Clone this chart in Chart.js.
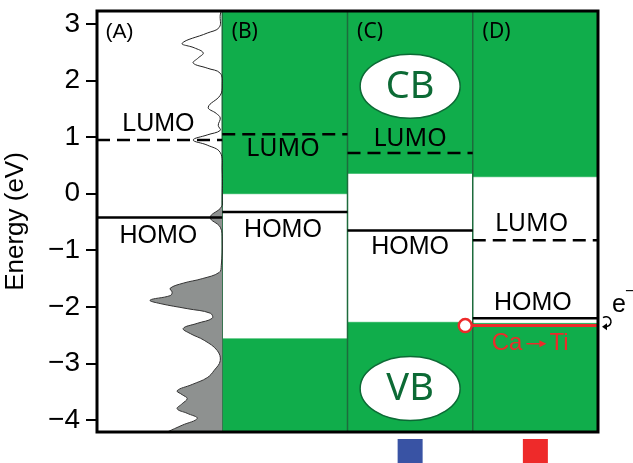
<!DOCTYPE html>
<html>
<head>
<meta charset="utf-8">
<script src="https://cdn.jsdelivr.net/npm/chart.js@4.4.1/dist/chart.umd.min.js"></script>
<style>
  html, body { margin: 0; padding: 0; background: #fff; }
  #wrap { width: 633px; height: 463px; }
</style>
</head>
<body>
<div id="wrap"><canvas id="bandChart"></canvas></div>
<script>
// energy levels per panel (A, B, C, D), in eV
const panelNames = ['(A)', '(B)', '(C)', '(D)'];
const lumoLevels = [0.95, 1.05, 0.72, -0.82];
const homoLevels = [-0.42, -0.32, -0.65, -2.2];
const cbEdge = [null, 0.0, 0.36, 0.3];     // bottom of conduction band
const vbEdge = [null, -2.56, -2.27, -2.29]; // top of valence band
const caTiLevel = -2.33;
const caTiStart = 2.94;
const yTicks = [3, 2, 1, 0, -1, -2, -3, -4];

// density of states of panel A (arbitrary units)
const dosEnergyEmpty = [3.23, 3.16, 2.94, 2.84, 2.66, 2.58, 2.49, 2.40, 2.31, 2.22, 2.13, 1.92, 1.74,
  1.53, 1.42, 1.34, 1.21, 1.12, 1.04, 0.95, 0.86, 0.73, 0.42, -0.12, -0.2];
const dosEmpty = [0.1, 0.2, 0.3, 1.5, 4.0, 2.8, 1.9, 2.4, 2.9, 1.5, 0.2, 0, 0.2,
  1.4, 0.6, 0.2, 0.4, 0.2, 1.5, 2.9, 1.5, 0.2, 0, 0, 0];
const dosEnergyFilled = [-0.2, -0.26, -0.42, -0.59, -0.82, -1.27, -1.39, -1.50, -1.58, -1.67, -1.74,
  -1.80, -1.88, -1.94, -2.03, -2.11, -2.20, -2.29, -2.38, -2.47, -2.59, -2.77, -2.95, -3.12, -3.25,
  -3.37, -3.48, -3.55, -3.62, -3.71, -3.80, -3.88, -3.97, -4.09, -4.21];
const dosFilled = [0, 0.2, 1.2, 0.2, 0, 0.1, 0.3, 2.0, 3.9, 5.2, 5.0,
  5.2, 7.2, 6.2, 3.5, 1.2, 1.0, 2.5, 3.9, 3.2, 1.8, 0.5, 0.2, 0.8, 1.5,
  3.0, 4.5, 4.0, 3.5, 4.0, 4.5, 3.5, 2.5, 4.0, 5.5];

const Y_MIN = -4.21, Y_MAX = 3.23;
const DOS_UNIT = 0.08;
const GREEN = '#10ad4b';
const DARK_GREEN = '#0c6a35';
const RED = '#ee2a2a';
const HELV = 'Liberation Sans, Arial, sans-serif';
const MYRIAD = 'Noto Sans, Open Sans, sans-serif';

const textLabels = [
  { text: panelNames[0], x: 0.18, y: 2.86, font: '21px ' + HELV },
  { text: panelNames[1], x: 1.18, y: 2.86, font: '21px ' + MYRIAD },
  { text: panelNames[2], x: 2.18, y: 2.86, font: '21px ' + MYRIAD },
  { text: panelNames[3], x: 3.19, y: 2.86, font: '21px ' + MYRIAD },
  { text: 'LUMO', x: 0.49, y: 1.23, font: '25px ' + HELV },
  { text: 'HOMO', x: 0.49, y: -0.74, font: '25px ' + HELV },
  { text: 'LUMO', x: 1.485, y: 0.80, font: '25px ' + MYRIAD },
  { text: 'HOMO', x: 1.485, y: -0.65, font: '25px ' + HELV },
  { text: 'LUMO', x: 2.5, y: 0.97, font: '25px ' + MYRIAD },
  { text: 'HOMO', x: 2.5, y: -0.95, font: '25px ' + HELV },
  { text: 'LUMO', x: 3.47, y: -0.54, font: '25px ' + MYRIAD },
  { text: 'HOMO', x: 3.48, y: -1.93, font: '25px ' + HELV }
];
const bandBubbles = [
  { text: 'CB', x: 2.5, y: 1.9 },
  { text: 'VB', x: 2.5, y: -3.44 }
];
const markers = [
  { x: 2.5, color: '#3953a4' },
  { x: 3.5, color: RED }
];

const datasets = [];
for (let i = 1; i < 4; i++) {
  datasets.push({
    data: [{ x: i, y: cbEdge[i] }, { x: i + 1, y: cbEdge[i] }],
    fill: 'end', backgroundColor: GREEN, borderColor: GREEN, borderWidth: 0.5, pointRadius: 0, order: 10
  });
  datasets.push({
    data: [{ x: i, y: vbEdge[i] }, { x: i + 1, y: vbEdge[i] }],
    fill: 'start', backgroundColor: GREEN, borderColor: GREEN, borderWidth: 0.5, pointRadius: 0, order: 10
  });
  datasets.push({
    data: [{ x: i, y: Y_MIN }, { x: i, y: Y_MAX }],
    borderColor: '#1d6b3c', borderWidth: 1.5, pointRadius: 0, order: 8
  });
}
datasets.push({
  indexAxis: 'y',
  data: dosEnergyEmpty.map((e, k) => ({ x: 1 - dosEmpty[k] * DOS_UNIT, y: e })),
  borderColor: '#222', borderWidth: 1, tension: 0.4, fill: false, pointRadius: 0, order: 6
});
datasets.push({
  indexAxis: 'y',
  data: dosEnergyFilled.map((e, k) => ({ x: 1 - dosFilled[k] * DOS_UNIT, y: e })),
  borderColor: '#333', borderWidth: 1, tension: 0.4, fill: { value: 1 }, backgroundColor: '#8e9190',
  pointRadius: 0, order: 6
});
for (let i = 0; i < 4; i++) {
  datasets.push({
    data: [{ x: i, y: lumoLevels[i] }, { x: i + 1, y: lumoLevels[i] }],
    borderColor: '#000', borderWidth: 2.5, borderDash: [13, 7], pointRadius: 0, order: 4
  });
  datasets.push({
    data: [{ x: i, y: homoLevels[i] }, { x: i + 1, y: homoLevels[i] }],
    borderColor: '#000', borderWidth: 2.5, pointRadius: 0, order: 4
  });
}
datasets.push({
  data: [{ x: caTiStart, y: caTiLevel }, { x: 4, y: caTiLevel }],
  borderColor: RED, borderWidth: 3, pointRadius: [6.5, 0],
  pointBackgroundColor: '#fff', pointBorderColor: RED, pointBorderWidth: 2.5, order: 1
});

const overlay = {
  id: 'overlay',
  afterDatasetsDraw(chart) {
    const { ctx, chartArea: a, scales: { x, y } } = chart;
    ctx.save();
    ctx.strokeStyle = '#000';
    ctx.lineWidth = 3;
    ctx.strokeRect(a.left, a.top, a.right - a.left, a.bottom - a.top);

    bandBubbles.forEach(b => {
      const cx = x.getPixelForValue(b.x), cy = y.getPixelForValue(b.y);
      ctx.beginPath();
      ctx.ellipse(cx, cy, 50, 32, 0, 0, Math.PI * 2);
      ctx.fillStyle = '#fff';
      ctx.fill();
      ctx.strokeStyle = DARK_GREEN;
      ctx.lineWidth = 1.5;
      ctx.stroke();
      ctx.fillStyle = DARK_GREEN;
      ctx.font = '38px ' + MYRIAD;
      ctx.textAlign = 'center';
      ctx.textBaseline = 'middle';
      ctx.fillText(b.text, cx, cy + 1);
    });

    ctx.textAlign = 'center';
    ctx.textBaseline = 'middle';
    textLabels.forEach(t => {
      ctx.font = t.font;
      ctx.fillStyle = t.color || '#000';
      ctx.fillText(t.text, x.getPixelForValue(t.x), y.getPixelForValue(t.y));
    });

    // Ca -> Ti label with a drawn arrow
    const cy = y.getPixelForValue(-2.65), cx = x.getPixelForValue(3.5);
    ctx.fillStyle = RED;
    ctx.strokeStyle = RED;
    ctx.font = '24px ' + HELV;
    ctx.textAlign = 'right';
    ctx.fillText('Ca', cx - 13, cy);
    ctx.textAlign = 'left';
    ctx.fillText('Ti', cx + 14, cy);
    ctx.lineWidth = 1.5;
    ctx.beginPath();
    ctx.moveTo(cx - 9, cy);
    ctx.lineTo(cx + 6, cy);
    ctx.stroke();
    ctx.beginPath();
    ctx.moveTo(cx + 11, cy);
    ctx.lineTo(cx + 4, cy - 3.5);
    ctx.lineTo(cx + 4, cy + 3.5);
    ctx.closePath();
    ctx.fill();

    // electron with curly arrow at the right edge
    ctx.fillStyle = '#000';
    ctx.font = '25px ' + HELV;
    ctx.textAlign = 'left';
    ctx.fillText('e', a.right + 14, y.getPixelForValue(-1.97));
    ctx.font = '16px ' + HELV;
    ctx.fillText('\u2212', a.right + 27, y.getPixelForValue(-1.72));
    const ax = a.right + 8, ay = y.getPixelForValue(-2.26);
    ctx.lineWidth = 1.5;
    ctx.strokeStyle = '#000';
    ctx.beginPath();
    ctx.arc(ax, ay, 5, -Math.PI * 0.7, Math.PI * 0.5);
    ctx.stroke();
    ctx.beginPath();
    ctx.moveTo(ax - 4, ay + 5);
    ctx.lineTo(ax + 1, ay + 1.5);
    ctx.lineTo(ax + 1, ay + 8.5);
    ctx.closePath();
    ctx.fill();

    markers.forEach(m => {
      const mx = x.getPixelForValue(m.x);
      ctx.fillStyle = m.color;
      ctx.fillRect(mx - 12.5, a.bottom + 7, 25, chart.height - a.bottom - 7);
    });
    ctx.restore();
  }
};

new Chart(document.getElementById('bandChart'), {
  type: 'line',
  data: { datasets: datasets },
  options: {
    responsive: true,
    maintainAspectRatio: false,
    animation: false,
    layout: { padding: { left: 0, top: 11, right: 35, bottom: 31 } },
    plugins: { legend: { display: false }, tooltip: { enabled: false } },
    scales: {
      x: { type: 'linear', min: 0, max: 4, display: false },
      y: {
        type: 'linear',
        min: Y_MIN,
        max: Y_MAX,
        afterBuildTicks: axis => { axis.ticks = yTicks.map(v => ({ value: v })); },
        afterFit: axis => {
          axis.width = 97;
          axis.paddingTop = 0;
          axis.paddingBottom = 0;
        },
        border: { display: false },
        grid: { drawOnChartArea: false, drawTicks: true, tickLength: 11, color: '#000', lineWidth: 2 },
        ticks: {
          color: '#000',
          padding: 6,
          font: { family: HELV, size: 28 },
          callback: v => (v < 0 ? '\u2212' + Math.abs(v) : String(v))
        },
        title: {
          display: true,
          text: 'Energy (eV)',
          color: '#000',
          font: { family: HELV, size: 26 },
          padding: { top: 0, bottom: 0 }
        }
      }
    }
  },
  plugins: [overlay]
});
</script>
</body>
</html>
